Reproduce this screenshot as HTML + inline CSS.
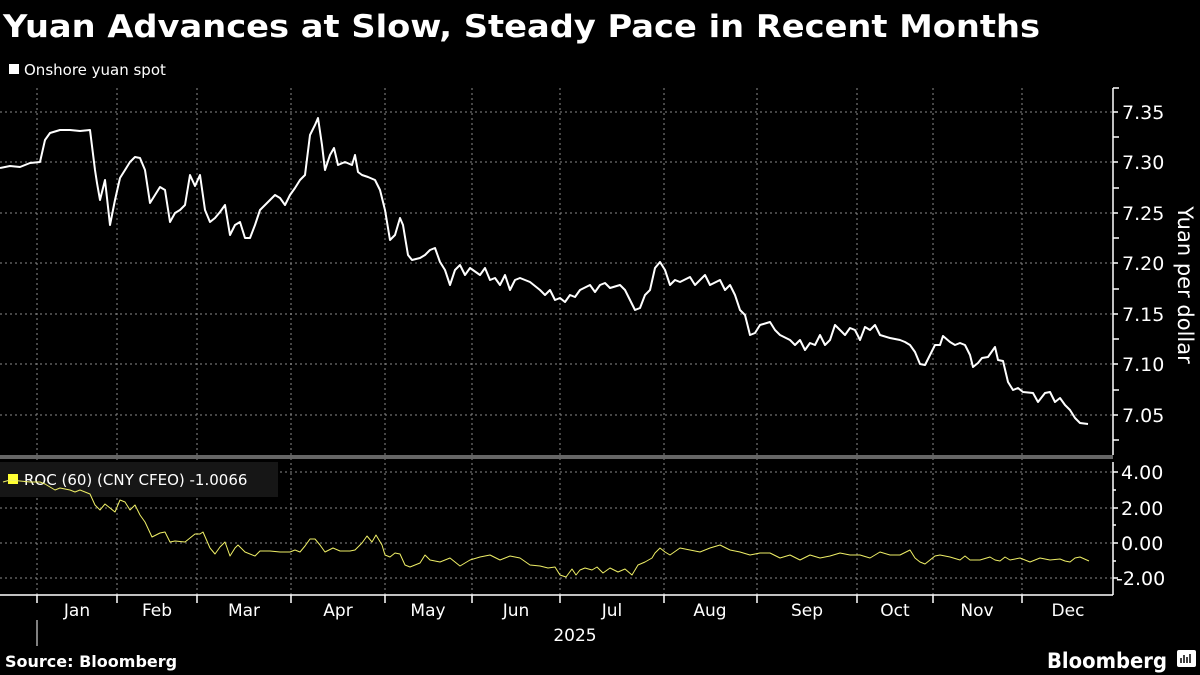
<!DOCTYPE html>
<html><head><meta charset="utf-8"><style>
html,body{margin:0;padding:0;background:#000;}
body{width:1200px;height:675px;overflow:hidden;position:relative;font-family:"Liberation Sans","DejaVu Sans",sans-serif;}
svg{position:absolute;left:0;top:0;}
</style></head><body>
<svg width="1200" height="675" viewBox="0 0 1200 675">
<text x="3" y="37" fill="#fff" font-size="31" font-weight="bold" font-family="DejaVu Sans, sans-serif" textLength="1037" lengthAdjust="spacingAndGlyphs">Yuan Advances at Slow, Steady Pace in Recent Months</text>
<rect x="9" y="64" width="10" height="10" fill="#fff"/>
<text x="24" y="75" fill="#fff" font-size="15" font-family="DejaVu Sans, sans-serif">Onshore yuan spot</text>
<g stroke="#8a8a8a" stroke-width="1" stroke-dasharray="2,3" fill="none">
<path d="M0 112H1113M0 162H1113M0 213H1113M0 263H1113M0 314H1113M0 364H1113M0 415H1113"/>
<path d="M0 472H1113M0 508H1113M0 543H1113M0 578H1113"/>
<path d="M37 88V595M117 88V595M197 88V595M291 88V595M385 88V595M472 88V595M560 88V595M664 88V595M757 88V595M857 88V595M933 88V595M1022 88V595"/>
</g>
<rect x="0" y="455" width="1113" height="4" fill="#666"/>
<rect x="0" y="462" width="278" height="35" fill="#161616"/>
<rect x="8" y="474" width="10" height="10" fill="#ffff33"/>
<text x="24" y="485" fill="#fff" font-size="15" font-family="DejaVu Sans, sans-serif">ROC (60) (CNY CFEO) -1.0066</text>
<g stroke="#fff" stroke-width="1.5">
<path d="M1113 88V455M1113 462V595M0 595H1113"/>
<path d="M1113 88H1119M1113 112H1118M1113 137H1119M1113 162H1118M1113 188H1119M1113 213H1118M1113 238H1119M1113 263H1118M1113 289H1119M1113 314H1118M1113 339H1119M1113 364H1118M1113 390H1119M1113 415H1118M1113 440H1119"/>
<path d="M1113 472H1118M1113 490H1116M1113 508H1118M1113 525H1116M1113 543H1118M1113 561H1116M1113 578H1118"/>
<path d="M37 595V603M117 595V603M197 595V603M291 595V603M385 595V603M472 595V603M560 595V603M664 595V603M757 595V603M857 595V603M933 595V603M1022 595V603"/>
<path d="M37 620V646" stroke-width="1"/>
</g>
<g fill="#fff" font-size="19" font-family="DejaVu Sans, sans-serif">
<text x="1122" y="119">7.35</text><text x="1122" y="169">7.30</text><text x="1122" y="220">7.25</text><text x="1122" y="270">7.20</text><text x="1122" y="321">7.15</text><text x="1122" y="371">7.10</text><text x="1122" y="422">7.05</text>
<text x="1121" y="479">4.00</text><text x="1121" y="515">2.00</text><text x="1121" y="550">0.00</text><text x="1116" y="585">-2.00</text>
</g>
<text transform="translate(1178,285) rotate(90)" text-anchor="middle" fill="#fff" font-size="21" font-family="DejaVu Sans, sans-serif">Yuan per dollar</text>
<g fill="#fff" font-size="17" font-family="DejaVu Sans, sans-serif" text-anchor="middle">
<text x="77" y="616">Jan</text><text x="157" y="616">Feb</text><text x="244" y="616">Mar</text><text x="338" y="616">Apr</text><text x="428" y="616">May</text><text x="516" y="616">Jun</text><text x="612" y="616">Jul</text><text x="710" y="616">Aug</text><text x="807" y="616">Sep</text><text x="895" y="616">Oct</text><text x="977" y="616">Nov</text><text x="1068" y="616">Dec</text>
<text x="575" y="641">2025</text>
</g>
<text x="5" y="667" fill="#fff" font-size="16" font-weight="bold" font-family="DejaVu Sans, sans-serif">Source: Bloomberg</text>
<text x="1167" y="668" text-anchor="end" fill="#fff" font-size="21" font-weight="bold" font-family="DejaVu Sans, sans-serif" textLength="120" lengthAdjust="spacingAndGlyphs">Bloomberg</text>
<rect x="1177" y="650" width="19" height="17" rx="2" fill="#fff"/>
<path d="M1181 663V658M1184 663V655M1187 663V657M1190 663V654" stroke="#000" stroke-width="1.5"/>
<polyline fill="none" stroke="#fff" stroke-width="2" stroke-linejoin="round" points="0,168 10,166 20,167 30,163 40,162 45,140 50,133 60,130 70,130 80,131 90,130 95,170 97,183 100,200 105,180 110,225 115,200 120,178 130,162 135,157 140,158 145,170 150,203 155,195 160,187 165,190 170,222 175,213 180,210 185,205 190,175 195,186 200,175 205,210 210,222 215,218 220,212 225,205 230,235 235,225 240,222 245,238 250,238 255,225 260,210 265,205 270,200 275,195 280,198 285,205 290,195 295,188 300,180 305,175 310,135 315,125 318,118 322,145 325,170 330,155 334,148 338,165 345,162 352,165 355,155 358,172 362,175 368,177 375,180 380,190 385,210 390,240 395,235 400,218 403,225 408,255 412,260 420,258 425,255 430,250 435,248 440,262 445,270 450,285 455,270 460,265 465,275 470,268 480,275 485,268 490,280 495,278 500,285 505,275 510,290 515,280 520,278 530,282 540,290 545,295 550,290 555,300 560,298 565,302 570,295 575,297 580,290 590,285 595,292 600,285 605,283 610,288 620,285 625,290 630,300 635,310 640,308 645,295 650,290 655,268 660,262 665,270 670,285 675,280 680,282 690,277 695,285 700,280 705,275 710,285 720,280 725,290 730,285 735,295 740,310 745,315 750,335 755,333 760,325 770,322 775,330 780,335 790,340 795,345 800,340 805,350 810,343 815,345 820,335 825,345 830,340 835,325 840,330 845,335 850,328 855,330 860,340 865,327 870,330 875,325 880,335 890,338 900,340 905,342 910,345 915,352 920,364 925,365 930,355 935,345 940,345 943,336 950,342 955,345 960,343 965,345 970,355 973,367 978,363 982,358 988,357 995,347 998,360 1003,361 1008,382 1013,390 1018,388 1023,392 1033,393 1038,402 1045,393 1050,392 1055,402 1060,398 1065,405 1070,410 1075,418 1080,423 1088,424"/>
<polyline fill="none" stroke="#eeee66" stroke-width="1" stroke-linejoin="round" points="3,482 10,480 20,481 30,482 40,482 45,484 55,490 60,488 70,490 75,492 80,490 90,494 95,505 100,510 105,504 110,508 115,512 120,500 125,502 130,510 135,505 140,515 145,522 152,537 160,533 165,532 170,542 175,541 185,542 195,534 200,534 203,532 210,548 215,554 220,547 225,542 230,556 235,548 238,545 245,552 255,556 260,551 270,551 280,552 290,552 295,550 300,552 305,546 310,539 315,539 320,545 325,552 333,548 340,551 350,551 355,550 362,543 367,536 372,542 376,535 382,545 385,555 390,557 395,553 400,554 405,565 410,567 420,563 425,555 430,560 440,562 450,558 460,566 465,563 470,560 480,557 490,555 500,560 510,556 520,558 530,565 540,566 548,568 555,567 560,575 566,577 572,569 576,575 580,570 585,568 592,570 597,567 603,573 610,568 618,572 625,569 632,575 638,565 645,562 652,558 655,553 660,548 665,552 670,555 680,548 690,550 700,552 710,548 720,545 730,550 740,552 750,555 760,553 770,553 780,558 790,555 800,560 810,555 820,558 830,556 840,553 850,555 860,555 870,558 880,552 890,555 900,555 906,552 910,550 915,558 920,562 925,564 930,560 935,556 940,555 950,557 960,560 965,556 970,560 980,560 990,557 995,560 1000,561 1005,557 1010,560 1020,558 1030,562 1040,558 1050,560 1060,559 1065,561 1070,562 1075,558 1080,557 1089,561"/>
</svg>
</body></html>
